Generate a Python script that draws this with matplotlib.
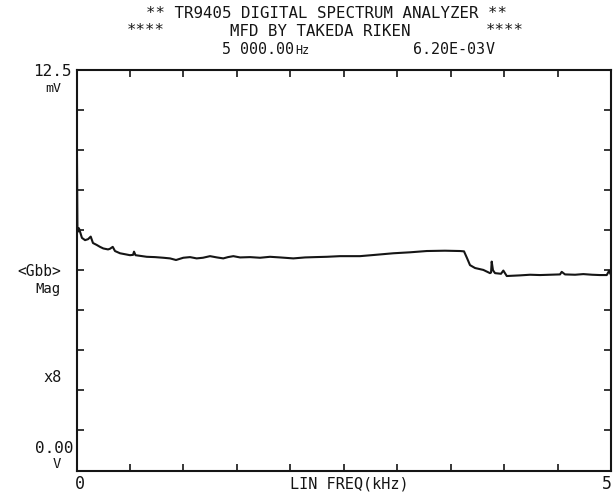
import matplotlib
matplotlib.use("Agg")
import matplotlib.pyplot as plt
from matplotlib.ticker import MultipleLocator

# ---- data ----
freq_khz = [0.000, 0.001, 0.009, 0.023, 0.051, 0.080, 0.108, 0.133, 0.154, 0.189,
            0.220, 0.251, 0.295, 0.313, 0.339, 0.360, 0.407, 0.454, 0.500, 0.529,
            0.538, 0.552, 0.594, 0.657, 0.734, 0.812, 0.875, 0.931, 0.999, 1.062,
            1.124, 1.183, 1.249, 1.314, 1.373, 1.417, 1.467, 1.530, 1.623, 1.717,
            1.810, 1.904, 2.028, 2.138, 2.231, 2.341, 2.465, 2.652, 2.793, 2.964,
            3.120, 3.276, 3.447, 3.588, 3.625, 3.653, 3.681, 3.728, 3.806, 3.868,
            3.878, 3.884, 3.896, 3.915, 3.971, 3.993, 4.025, 4.149, 4.243, 4.336,
            4.430, 4.523, 4.539, 4.570, 4.664, 4.741, 4.823, 4.897, 4.960, 4.982,
            5.000]
mag_mv = [11.60, 11.56, 7.44, 7.56, 7.26, 7.19, 7.22, 7.30, 7.10, 7.04,
          6.98, 6.93, 6.90, 6.92, 6.98, 6.85, 6.78, 6.75, 6.72, 6.73,
          6.83, 6.72, 6.70, 6.67, 6.66, 6.64, 6.62, 6.57, 6.64, 6.66,
          6.62, 6.64, 6.69, 6.65, 6.62, 6.66, 6.69, 6.65, 6.66, 6.64,
          6.67, 6.65, 6.62, 6.65, 6.66, 6.67, 6.69, 6.69, 6.73, 6.78,
          6.81, 6.85, 6.86, 6.85, 6.84, 6.63, 6.41, 6.32, 6.26, 6.16,
          6.18, 6.52, 6.25, 6.16, 6.14, 6.24, 6.07, 6.09, 6.11, 6.10,
          6.11, 6.12, 6.20, 6.12, 6.11, 6.13, 6.11, 6.10, 6.10, 6.23,
          6.10]

x_ticks = [0.0, 0.5, 1.0, 1.5, 2.0, 2.5, 3.0, 3.5, 4.0, 4.5, 5.0]
y_max = 12.5
y_step = 1.25

title1 = "** TR9405 DIGITAL SPECTRUM ANALYZER **"
title2 = "MFD BY TAKEDA RIKEN"
freq_text = "5 000.00"
volt_text = "6.20E-03"

W, H = 614, 494
FONT = "DejaVu Sans Mono"
INK = "#151515"

fig = plt.figure(figsize=(W / 100, H / 100), dpi=100)
fig.patch.set_facecolor("white")

L, R, T, B = 76.5, 611, 70, 470.5
ax = fig.add_axes([L / W, (H - B) / H, (R - L) / W, (B - T) / H])

ax.plot(freq_khz, mag_mv, color=INK, lw=1.5, solid_joinstyle="round")
ax.set_xlim(0, 5)
ax.set_ylim(0, y_max)
ax.set_xticks(x_ticks)
ax.yaxis.set_major_locator(MultipleLocator(y_step))
ax.tick_params(direction="in", length=5, width=1.2, color=INK,
               top=True, right=True, labelbottom=False, labelleft=False)
for s in ax.spines.values():
    s.set_linewidth(1.5)
    s.set_color(INK)


def ftext(x, y, s, size=11.5, ha="left", va="center"):
    fig.text(x / W, 1 - y / H, s, fontsize=size, ha=ha, va=va,
             family=FONT, color=INK)


# header
ftext(326, 13, title1, size=11.3, ha="center")
ftext(127, 31, "****", size=11.3)
ftext(320, 31, title2, size=11.3, ha="center")
ftext(524, 31, "****", size=11.3, ha="right")
ftext(222, 49, freq_text, size=10.8)
ftext(295, 50, "Hz", size=8.5)
ftext(413, 49, volt_text, size=10.8)
ftext(486, 49, "V", size=10.8)

# y-axis annotations
ftext(72, 71, "12.5", size=11.5, ha="right")
ftext(61, 88, "mV", size=9.5, ha="right")
ftext(61, 272, "<Gbb>", size=10.5, ha="right")
ftext(60, 289, "Mag", size=10, ha="right")
ftext(62, 377, "x8", size=11, ha="right")
ftext(73, 448, "0.00", size=11.5, ha="right")
ftext(57, 464, "V", size=10, ha="center")

# x-axis annotations
ftext(80, 484, "0", size=12, ha="center")
ftext(607, 484, "5", size=12, ha="center")
ftext(349, 484, "LIN FREQ(kHz)", size=11, ha="center")

fig.savefig("out.png", dpi=100, facecolor="white")
